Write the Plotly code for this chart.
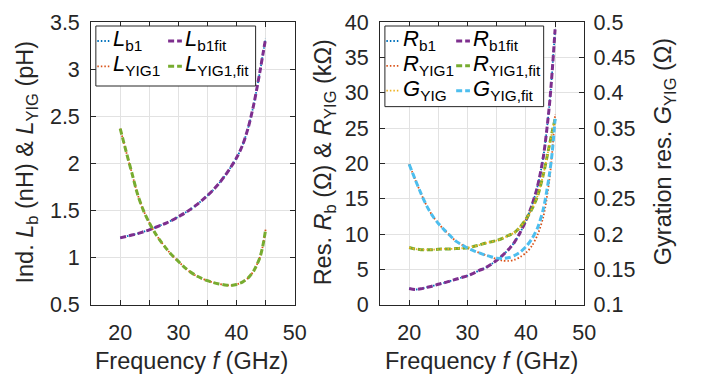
import plotly.graph_objects as go

# ---------------- data ----------------
freq = [20, 21, 22, 23, 24, 25, 26, 27, 28, 29, 30, 31, 32, 33, 34, 35,
        36, 37, 38, 39, 40, 41, 42, 43, 44, 44.5, 45]

# Left panel: inductances
L_b1 = [1.21, 1.225, 1.24, 1.255, 1.275, 1.295, 1.32, 1.345, 1.37, 1.40, 1.435, 1.47, 1.51, 1.555,
        1.605, 1.66, 1.72, 1.79, 1.87, 1.96, 2.06, 2.19, 2.38, 2.64, 2.97, 3.15, 3.33]
L_b1_fit = [1.21, 1.225, 1.24, 1.255, 1.275, 1.295, 1.32, 1.345, 1.37, 1.40, 1.435, 1.47, 1.51, 1.555,
            1.605, 1.66, 1.72, 1.79, 1.87, 1.96, 2.06, 2.19, 2.38, 2.64, 2.97, 3.15, 3.33]
L_YIG1 = [2.37, 2.13, 1.90, 1.67, 1.50, 1.37, 1.26, 1.17, 1.09, 1.02, 0.96, 0.90, 0.85, 0.81,
          0.78, 0.755, 0.735, 0.72, 0.71, 0.705, 0.715, 0.74, 0.785, 0.865, 1.00, 1.12, 1.30]
L_YIG1_fit = [2.37, 2.13, 1.90, 1.67, 1.50, 1.37, 1.26, 1.17, 1.09, 1.02, 0.96, 0.90, 0.85, 0.81,
              0.78, 0.755, 0.735, 0.72, 0.71, 0.705, 0.715, 0.74, 0.785, 0.865, 1.00, 1.12, 1.30]

# Right panel: resistances (left axis) and gyration resistance (right axis)
R_b1 = [2.3, 2.15, 2.25, 2.45, 2.65, 2.9, 3.1, 3.35, 3.6, 3.85, 4.1, 4.45, 4.85, 5.2,
        5.7, 6.3, 7.0, 7.8, 8.8, 10.2, 11.9, 14.0, 16.8, 21.0, 28.0, 33.0, 39.0]
R_b1_fit = [2.3, 2.15, 2.25, 2.45, 2.65, 2.9, 3.1, 3.35, 3.6, 3.85, 4.1, 4.45, 4.85, 5.2,
            5.7, 6.3, 7.0, 7.8, 8.8, 10.2, 11.9, 14.0, 16.8, 21.0, 28.0, 33.0, 39.0]
R_YIG1 = [19.9, 17.8, 15.8, 14.0, 12.6, 11.5, 10.6, 9.8, 9.0, 8.5, 8.0, 7.65, 7.35, 7.05,
          6.75, 6.45, 6.25, 6.2, 6.35, 6.75, 7.35, 8.3, 9.9, 12.5, 17.5, 21.6, 27.0]
R_YIG1_fit = [8.1, 7.9, 7.8, 7.8, 7.8, 7.85, 7.9, 7.9, 7.95, 8.0, 8.05, 8.25, 8.45, 8.7,
              8.9, 9.1, 9.4, 9.8, 10.2, 11.0, 12.1, 13.5, 15.4, 18.5, 22.5, 24.5, 26.3]
G_YIG = [0.181, 0.179, 0.178, 0.178, 0.178, 0.1785, 0.179, 0.179, 0.1795, 0.180, 0.1805,
         0.1825, 0.1845, 0.187, 0.189, 0.191, 0.194, 0.198, 0.202, 0.210, 0.221, 0.235,
         0.254, 0.285, 0.325, 0.345, 0.363]
G_YIG_fit = [0.299, 0.278, 0.258, 0.240, 0.226, 0.215, 0.206, 0.198, 0.190, 0.185, 0.180,
             0.1765, 0.1735, 0.1705, 0.168, 0.166, 0.1655, 0.1665, 0.1695, 0.1745, 0.182,
             0.193, 0.209, 0.236, 0.283, 0.315, 0.363]

x_ticks = [15, 20, 25, 30, 35, 40, 45, 50]
x_ticktext = ["", "20", "", "30", "", "40", "", "50"]
yL_ticks = [0.5, 1, 1.5, 2, 2.5, 3, 3.5]
yL_ticktext = ["0.5", "1", "1.5", "2", "2.5", "3", "3.5"]
yR_ticks = [0, 5, 10, 15, 20, 25, 30, 35, 40]
yR_ticktext = ["0", "5", "10", "15", "20", "25", "30", "35", "40"]
yG_ticks = [0.1, 0.15, 0.2, 0.25, 0.3, 0.35, 0.4, 0.45, 0.5]
yG_ticktext = ["0.1", "0.15", "0.2", "0.25", "0.3", "0.35", "0.4", "0.45", "0.5"]

# ---------------- styling ----------------
W, H = 711, 384
FONT = "Liberation Sans, Arial, Helvetica, sans-serif"
AX = "#262626"
GRID = "#e2e2e2"
C_BLUE, C_ORANGE, C_YELLOW = "#0072BD", "#D95319", "#EDB120"
C_PURPLE, C_GREEN, C_CYAN = "#7E2F8E", "#77AC30", "#4DBEEE"
DOT = "1.5px,2px"
DASH = "6px,3px"
W_DOT, W_DASH = 1.8, 3.0


def px_x(p):
    return p / W


def px_y(p):
    return 1 - p / H


fig = go.Figure()


def add(x, y, name, color, dash, width, xa, ya):
    fig.add_trace(go.Scatter(x=x, y=y, name=name, mode="lines",
                             line=dict(color=color, dash=dash, width=width, shape="spline", smoothing=0.8),
                             xaxis=xa, yaxis=ya, showlegend=False))


add(freq, L_b1, "L_b1", C_BLUE, DOT, W_DOT, "x", "y")
add(freq, L_YIG1, "L_YIG1", C_ORANGE, DOT, W_DOT, "x", "y")
add(freq, L_b1_fit, "L_b1fit", C_PURPLE, DASH, W_DASH, "x", "y")
add(freq, L_YIG1_fit, "L_YIG1,fit", C_GREEN, DASH, W_DASH, "x", "y")

add(freq, R_b1, "R_b1", C_BLUE, DOT, W_DOT, "x2", "y2")
add(freq, R_YIG1, "R_YIG1", C_ORANGE, DOT, W_DOT, "x2", "y2")
add(freq, R_b1_fit, "R_b1fit", C_PURPLE, DASH, W_DASH, "x2", "y2")
add(freq, R_YIG1_fit, "R_YIG1,fit", C_GREEN, DASH, W_DASH, "x2", "y2")
add(freq, G_YIG, "G_YIG", C_YELLOW, DOT, W_DOT, "x2", "y3")
add(freq, G_YIG_fit, "G_YIG,fit", C_CYAN, DASH, W_DASH, "x2", "y3")

tickfont = dict(family=FONT, size=21.5, color=AX)
common = dict(showline=True, linecolor=AX, linewidth=1, ticks="inside", ticklen=5,
              tickcolor=AX, tickwidth=1, zeroline=False, tickfont=tickfont)

yb, yt = 313.3, 12
xdomL = [px_x(92.7), px_x(299.8)]
xdomR = [px_x(386.5), px_x(594.3)]
ydom = [px_y(yb), px_y(yt)]

fig.update_layout(
    width=W, height=H, margin=dict(l=0, r=0, t=0, b=0),
    paper_bgcolor="white", plot_bgcolor="white", showlegend=False,
    font=dict(family=FONT, color=AX),
    xaxis=dict(domain=xdomL, anchor="y", range=[15, 50], tickvals=x_ticks, ticktext=x_ticktext,
               showgrid=True, gridcolor=GRID, gridwidth=1, mirror="ticks", ticklabelstandoff=8, **common),
    yaxis=dict(domain=ydom, anchor="x", range=[0.5, 3.5], tickvals=yL_ticks, ticktext=yL_ticktext,
               showgrid=True, gridcolor=GRID, gridwidth=1, mirror="ticks", ticklabelstandoff=6, **common),
    xaxis2=dict(domain=xdomR, anchor="y2", range=[15, 50], tickvals=x_ticks, ticktext=x_ticktext,
                showgrid=True, gridcolor=GRID, gridwidth=1, mirror="ticks", ticklabelstandoff=8, **common),
    yaxis2=dict(domain=ydom, anchor="x2", range=[0, 40], tickvals=yR_ticks, ticktext=yR_ticktext,
                showgrid=True, gridcolor=GRID, gridwidth=1, ticklabelstandoff=6, **common),
    yaxis3=dict(overlaying="y2", anchor="x2", side="right", range=[0.1, 0.5], tickvals=yG_ticks,
                ticktext=yG_ticktext, showgrid=False, ticklabelstandoff=4, **common),
)

ann = []
tfont = dict(family=FONT, size=23.5, color=AX)
ann.append(dict(text="Ind. <i>L</i><sub>b</sub> (nH) &amp; <i>L</i><sub>YIG</sub> (pH)",
                x=px_x(27), y=px_y(161), textangle=-90, font=tfont))
ann.append(dict(text="Res. <i>R</i><sub>b</sub> (Ω) &amp; <i>R</i><sub>YIG</sub> (kΩ)",
                x=px_x(331), y=px_y(161), textangle=-90, font=tfont))
ann.append(dict(text="Gyration res. <i>G</i><sub>YIG</sub> (Ω)",
                x=px_x(676), y=px_y(150), textangle=-90, font=tfont))
ann.append(dict(text="Frequency <i>f</i> (GHz)", x=px_x(195), y=px_y(373), font=tfont))
ann.append(dict(text="Frequency <i>f</i> (GHz)", x=px_x(490), y=px_y(373), font=tfont))

shapes = []
# legend boxes
shapes.append(dict(type="rect", xref="paper", yref="paper", x0=px_x(97.5), x1=px_x(260),
                   y0=px_y(80), y1=px_y(16), line=dict(color=AX, width=1), fillcolor="white", layer="above"))
shapes.append(dict(type="rect", xref="paper", yref="paper", x0=px_x(391.5), x1=px_x(553),
                   y0=px_y(102), y1=px_y(16), line=dict(color=AX, width=1), fillcolor="white", layer="above"))

lfont = dict(family=FONT, size=22, color="black")


def leg(x0, x1, y, color, dash, width, label):
    shapes.append(dict(type="line", xref="paper", yref="paper", x0=px_x(x0), x1=px_x(x1),
                       y0=px_y(y + 2), y1=px_y(y + 2), line=dict(color=color, dash=dash, width=width),
                       layer="above"))
    ann.append(dict(text=label, x=px_x(x1 + 1), y=px_y(y + 1), xanchor="left", yanchor="middle",
                    font=lfont))


leg(99, 112, 30, C_BLUE, DOT, W_DOT, "<i>L</i><sub>b1</sub>")
leg(171, 185, 30, C_PURPLE, DASH, W_DASH, "<i>L</i><sub>b1fit</sub>")
leg(99, 112, 57, C_ORANGE, DOT, W_DOT, "<i>L</i><sub>YIG1</sub>")
leg(171, 185, 57, C_GREEN, DASH, W_DASH, "<i>L</i><sub>YIG1,fit</sub>")

leg(393, 407, 30, C_BLUE, DOT, W_DOT, "<i>R</i><sub>b1</sub>")
leg(464, 478, 30, C_PURPLE, DASH, W_DASH, "<i>R</i><sub>b1fit</sub>")
leg(393, 407, 56.5, C_ORANGE, DOT, W_DOT, "<i>R</i><sub>YIG1</sub>")
leg(464, 478, 56.5, C_GREEN, DASH, W_DASH, "<i>R</i><sub>YIG1,fit</sub>")
leg(393, 407, 83, C_YELLOW, DOT, W_DOT, "<i>G</i><sub>YIG</sub>")
leg(464, 478, 83, C_CYAN, DASH, W_DASH, "<i>G</i><sub>YIG,fit</sub>")

for a in ann:
    a.setdefault("xref", "paper")
    a.setdefault("yref", "paper")
    a.setdefault("showarrow", False)
    a.setdefault("xanchor", "center")
    a.setdefault("yanchor", "middle")

fig.update_layout(annotations=ann, shapes=shapes)
fig.write_html("out.html")
